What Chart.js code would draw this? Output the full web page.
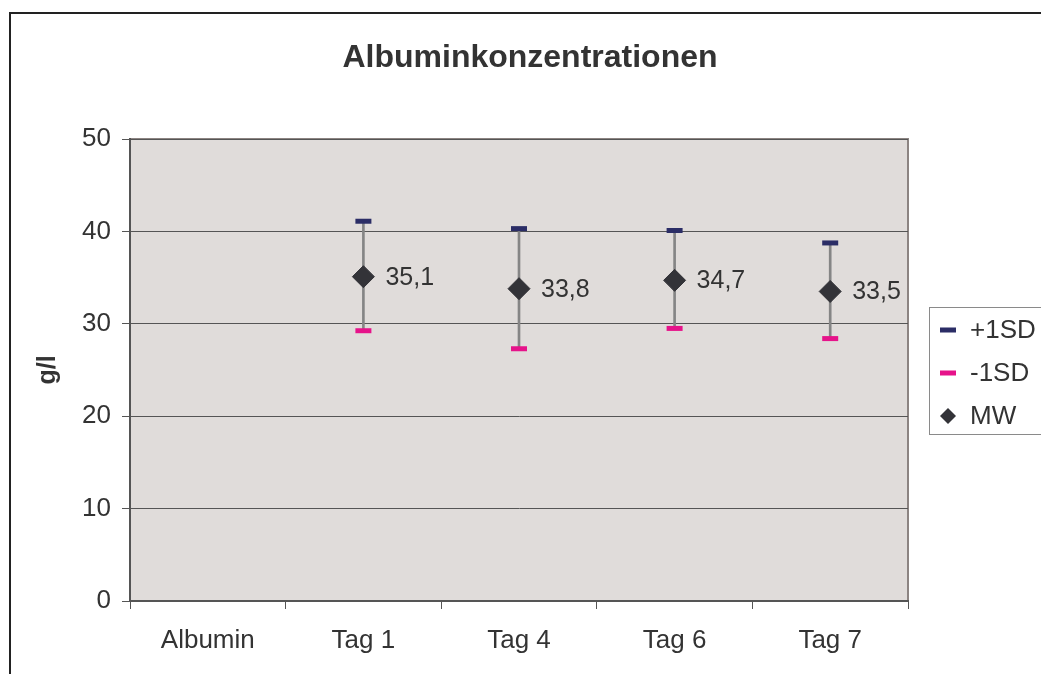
<!DOCTYPE html>
<html>
<head>
<meta charset="utf-8">
<script src="https://cdn.jsdelivr.net/npm/chart.js@4"></script>
<style>
  html, body { margin: 0; padding: 0; background: #fff; }
  #wrap { width: 1041px; height: 674px; position: relative; }
</style>
</head>
<body>
<div id="wrap"><canvas id="albChart"></canvas></div>
<script>
const categories = ["Albumin", "Tag 1", "Tag 4", "Tag 6", "Tag 7"];
const plusSD = [null, 41.1, 40.3, 40.1, 38.75];
const minusSD = [null, 29.25, 27.3, 29.5, 28.4];
const meanValues = [null, 35.1, 33.8, 34.7, 33.5];
const yTicks = [0, 10, 20, 30, 40, 50];

const font = "'Liberation Sans', Arial, sans-serif";
const textColor = "#333333";
const navy = "#2B2D66";
const pink = "#E6138A";
const diamond = "#333338";

const rangeData = plusSD.map((hi, i) => (hi == null ? null : [minusSD[i], hi]));

// background of plot, outer frame, title, value labels, legend
const decor = {
  id: "decor",
  beforeDraw(chart) {
    const { ctx, chartArea: a } = chart;
    ctx.save();
    ctx.fillStyle = "#E0DCDA";
    ctx.fillRect(a.left, a.top, a.right - a.left, a.bottom - a.top);
    ctx.strokeStyle = "#8C8482";
    ctx.lineWidth = 2;
    ctx.beginPath();
    ctx.moveTo(a.left, a.top);
    ctx.lineTo(a.right, a.top);
    ctx.lineTo(a.right, a.bottom);
    ctx.stroke();
    ctx.restore();
  },
  afterDraw(chart) {
    const { ctx } = chart;
    ctx.save();
    // outer frame
    ctx.strokeStyle = "#222";
    ctx.lineWidth = 2;
    ctx.beginPath();
    ctx.moveTo(10, 674);
    ctx.lineTo(10, 13);
    ctx.lineTo(1041, 13);
    ctx.stroke();

    // title
    ctx.fillStyle = textColor;
    ctx.font = "bold 32px " + font;
    ctx.textAlign = "center";
    ctx.textBaseline = "middle";
    ctx.fillText("Albuminkonzentrationen", 530, 58);

    // value labels next to the mean diamonds
    const meta = chart.getDatasetMeta(3);
    ctx.font = "25px " + font;
    ctx.textAlign = "left";
    meta.data.forEach((pt, i) => {
      const v = meanValues[i];
      if (v == null) return;
      ctx.fillText(v.toFixed(1).replace(".", ","), pt.x + 22, pt.y + 1);
    });

    // legend
    ctx.strokeStyle = "#8A8A8A";
    ctx.lineWidth = 1;
    ctx.strokeRect(929.5, 307.5, 120, 127);
    const items = [
      { label: "+1SD", color: navy, kind: "dash" },
      { label: "-1SD", color: pink, kind: "dash" },
      { label: "MW", color: diamond, kind: "diamond" }
    ];
    items.forEach((it, i) => {
      const y = 330 + i * 43;
      ctx.fillStyle = it.color;
      if (it.kind === "dash") {
        ctx.fillRect(940, y - 2.5, 16, 5);
      } else {
        ctx.beginPath();
        ctx.moveTo(948, y - 8);
        ctx.lineTo(956, y);
        ctx.lineTo(948, y + 8);
        ctx.lineTo(940, y);
        ctx.closePath();
        ctx.fill();
      }
      ctx.fillStyle = textColor;
      ctx.font = "26px " + font;
      ctx.textAlign = "left";
      ctx.fillText(it.label, 970, y + 1);
    });
    ctx.restore();
  }
};

new Chart(document.getElementById("albChart"), {
  type: "bar",
  data: {
    labels: categories,
    datasets: [
      {
        label: "range",
        data: rangeData,
        backgroundColor: "#858585",
        barThickness: 2,
        order: 4
      },
      {
        type: "line",
        label: "+1SD",
        data: plusSD,
        showLine: false,
        pointStyle: "line",
        pointRadius: 8,
        pointBorderWidth: 5,
        borderColor: navy,
        backgroundColor: navy,
        order: 2
      },
      {
        type: "line",
        label: "-1SD",
        data: minusSD,
        showLine: false,
        pointStyle: "line",
        pointRadius: 8,
        pointBorderWidth: 5,
        borderColor: pink,
        backgroundColor: pink,
        order: 2
      },
      {
        type: "line",
        label: "MW",
        data: meanValues,
        showLine: false,
        pointStyle: "rectRot",
        pointRadius: 11,
        pointBorderWidth: 1,
        borderColor: diamond,
        backgroundColor: diamond,
        order: 1
      }
    ]
  },
  options: {
    responsive: true,
    maintainAspectRatio: false,
    animation: false,
    events: [],
    layout: { padding: { top: 139, right: 133, bottom: 0, left: 10 } },
    plugins: { legend: { display: false }, title: { display: false }, tooltip: { enabled: false } },
    scales: {
      x: {
        offset: true,
        grid: { offset: true, drawOnChartArea: false, drawTicks: true, tickLength: 8, color: "#555", lineWidth: 1 },
        border: { color: "#555", width: 2 },
        ticks: { color: textColor, font: { family: font, size: 26 }, padding: 16, maxRotation: 0 },
        afterFit: (axis) => { axis.height = 73; }
      },
      y: {
        min: 0,
        max: 50,
        afterBuildTicks: (axis) => { axis.ticks = yTicks.map((v) => ({ value: v })); },
        grid: { color: "#555", lineWidth: 1, tickLength: 8 },
        border: { color: "#555", width: 2 },
        ticks: { color: textColor, font: { family: font, size: 26 }, padding: 11 },
        title: {
          display: true, text: "g/l", color: textColor,
          font: { family: font, size: 25, weight: "bold" },
          padding: { top: 23, bottom: 0 }
        },
        afterFit: (axis) => { axis.width = 120; }
      }
    }
  },
  plugins: [decor]
});
</script>
</body>
</html>
